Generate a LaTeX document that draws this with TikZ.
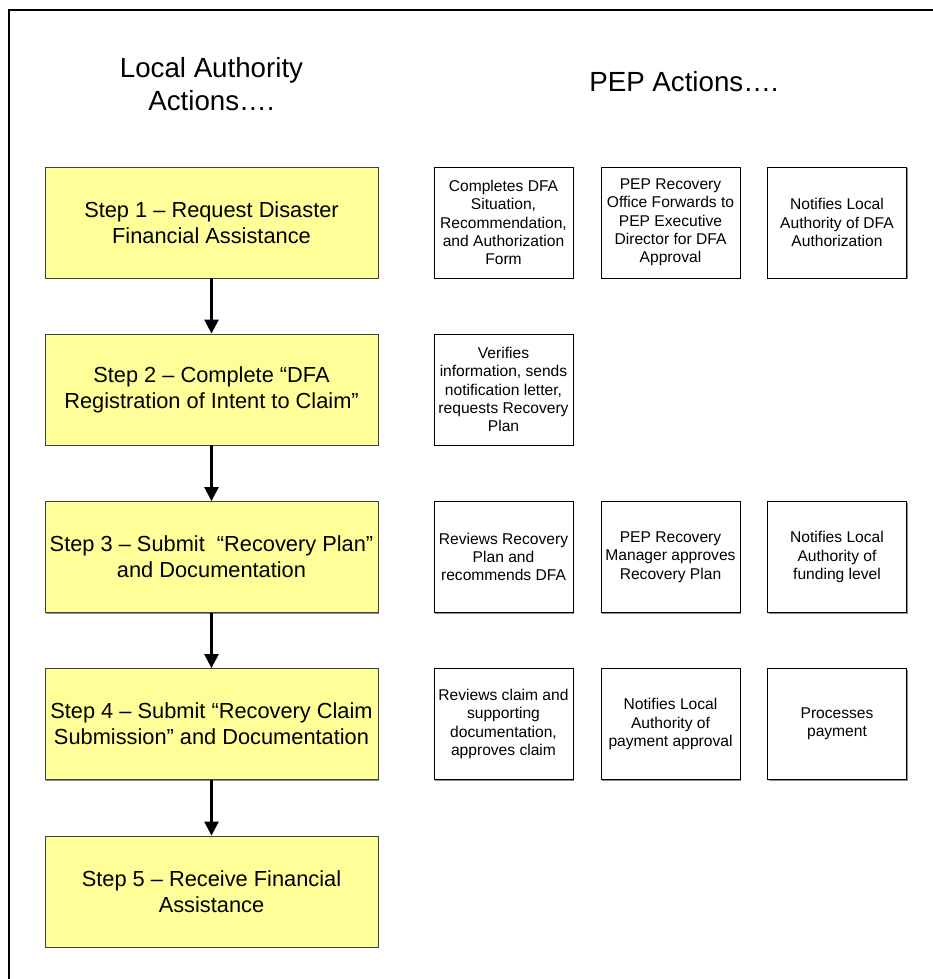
\documentclass[tikz,border=0pt]{standalone}
\usepackage{fontspec}
\setmainfont{Liberation Sans}
\usetikzlibrary{arrows.meta,shadows}
\definecolor{stepyellow}{HTML}{FFFF99}
\definecolor{boxshadow}{HTML}{8C8C8C}
\tikzset{
  heading/.style={align=center,font=\fontsize{27.7}{33}\selectfont},
  stepbox/.style={draw=black!75,line width=0.8pt,fill=stepyellow,minimum width=333pt,minimum height=111pt,
    align=center,font=\fontsize{21.8}{26}\selectfont,
    drop shadow={shadow xshift=1.3pt,shadow yshift=-1.3pt,fill=boxshadow,opacity=1}},
  pepbox/.style={draw=black,line width=0.7pt,fill=white,minimum width=139pt,minimum height=111pt,
    align=center,font=\fontsize{15.6}{18.3}\selectfont,
    drop shadow={shadow xshift=1pt,shadow yshift=-1pt,fill=boxshadow,opacity=1}},
  arr/.style={line width=2.5pt,-{Triangle[length=14pt,width=14pt]}},
}
\begin{document}
\begin{tikzpicture}[x=1pt,y=-1pt]
\useasboundingbox (0,0) rectangle (932,979);
\draw[line width=2pt] (9,980) -- (9,10) -- (933,10);

\node[heading] (hla) at (211.5,84) {Local Authority\\Actions….};
\node[heading] (hpep) at (684,82) {PEP Actions….};

\node[stepbox] (s1) at (211.5,222.5) {Step 1 – Request Disaster\\Financial Assistance};
\node[stepbox] (s2) at (211.5,389.5) {Step 2 – Complete “DFA\\Registration of Intent to Claim”};
\node[stepbox] (s3) at (211.5,557) {Step 3 – Submit~ “Recovery Plan”\\and Documentation};
\node[stepbox] (s4) at (211.5,724) {Step 4 – Submit “Recovery Claim\\Submission” and Documentation};
\node[stepbox] (s5) at (211.5,891.5) {Step 5 – Receive Financial\\Assistance};

\draw[arr] (s1) -- (s2);
\draw[arr] (s2) -- (s3);
\draw[arr] (s3) -- (s4);
\draw[arr] (s4) -- (s5);

\node[pepbox] (p11) at (503.5,222.5) {Completes DFA\\Situation,\\Recommendation,\\and Authorization\\Form};
\node[pepbox] (p12) at (670.5,222.5) {PEP Recovery\\Office Forwards to\\PEP Executive\\Director for DFA\\Approval};
\node[pepbox] (p13) at (837,222.5) {Notifies Local\\Authority of DFA\\Authorization};

\node[pepbox] (p21) at (503.5,389.5) {Verifies\\information, sends\\notification letter,\\requests Recovery\\Plan};

\node[pepbox] (p31) at (503.5,557) {Reviews Recovery\\Plan and\\recommends DFA};
\node[pepbox] (p32) at (670.5,557) {PEP Recovery\\Manager approves\\Recovery Plan};
\node[pepbox] (p33) at (837,557) {Notifies Local\\Authority of\\funding level};

\node[pepbox] (p41) at (503.5,724) {Reviews claim and\\supporting\\documentation,\\approves claim};
\node[pepbox] (p42) at (670.5,724) {Notifies Local\\Authority of\\payment approval};
\node[pepbox] (p43) at (837,724) {Processes\\payment};
\end{tikzpicture}
\end{document}
